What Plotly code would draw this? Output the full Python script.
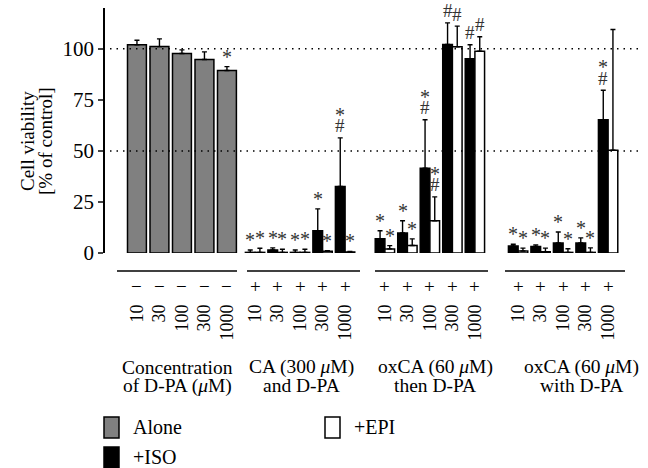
import plotly.graph_objects as go

# ---------------- data ----------------
doses = ["10", "30", "100", "300", "1000"]
pretreat_sign = ["−", "+", "+", "+"]
group_line1 = ["Concentration", "CA (300 <i>μ</i>M)", "oxCA (60 <i>μ</i>M)", "oxCA (60 <i>μ</i>M)"]
group_line2 = ["of D-PA (<i>μ</i>M)", "and D-PA", "then D-PA", "with D-PA"]

alone_mean = [102.0, 101.1, 97.7, 94.8, 89.4]
alone_err = [2.2, 3.8, 1.8, 3.7, 1.9]
alone_sig = ["", "", "", "", "*"]

ca_iso_mean = [0.3, 1.5, 0.3, 10.9, 32.6]
ca_iso_err = [1.2, 1.0, 1.2, 10.7, 23.8]
ca_iso_sig = ["*", "*", "*", "*", "*#"]
ca_epi_mean = [0.3, 0.3, 0.3, 0.8, 0.5]
ca_epi_err = [2.0, 1.5, 1.5, 0.3, 0.3]
ca_epi_sig = ["*", "*", "*", "*", "*"]

oxthen_iso_mean = [7.0, 9.8, 41.5, 102.1, 95.1]
oxthen_iso_err = [3.9, 6.0, 23.8, 10.6, 6.9]
oxthen_iso_sig = ["*", "*", "*#", "#", "#"]
oxthen_epi_mean = [2.0, 3.7, 15.8, 101.0, 98.8]
oxthen_epi_err = [1.6, 3.2, 11.7, 10.1, 7.1]
oxthen_epi_sig = ["*", "*", "*#", "#", "#"]

oxwith_iso_mean = [3.4, 3.2, 4.9, 4.9, 65.3]
oxwith_iso_err = [0.9, 0.8, 5.4, 2.5, 14.4]
oxwith_iso_sig = ["*", "*", "*", "*", "*#"]
oxwith_epi_mean = [1.0, 0.6, 0.3, 0.3, 50.3]
oxwith_epi_err = [1.4, 1.8, 1.8, 2.2, 59.2]
oxwith_epi_sig = ["*", "*", "*", "*", ""]

y_ticks = [0, 25, 50, 75, 100]
ref_lines = [50, 100]

# ---------------- layout constants ----------------
W, H = 648, 468
ML, MR, MT, MB = 105, 8, 8, 215
PITCH = 22.5                      # px per slot
XMAX = (W - ML - MR) / PITCH
YMAX = 120
GROUP_START = [1.42, 6.67, 12.44, 18.36]
PAIR_OFF = 0.215
PAIR_W = 0.43
SINGLE_W = 0.84
FONT = "Liberation Serif"


def px_x(px):
    return (px - ML) / (W - ML - MR)


def px_y(py):
    return (H - MB - py) / (H - MT - MB)


def slots(g):
    return [GROUP_START[g] + i for i in range(len(doses))]


err_style = dict(type="data", symmetric=False, color="black", thickness=1.4, width=2.5)

fig = go.Figure()

# Alone (gray)
x_alone = slots(0)
fig.add_trace(go.Bar(
    x=x_alone, y=alone_mean, width=[SINGLE_W] * 5, name="Alone",
    marker=dict(color="#808080", line=dict(color="black", width=1.5)),
    error_y=dict(array=alone_err, arrayminus=[0] * 5, **err_style),
))

iso_mean = ca_iso_mean + oxthen_iso_mean + oxwith_iso_mean
iso_err = ca_iso_err + oxthen_iso_err + oxwith_iso_err
iso_sig = ca_iso_sig + oxthen_iso_sig + oxwith_iso_sig
epi_mean = ca_epi_mean + oxthen_epi_mean + oxwith_epi_mean
epi_err = ca_epi_err + oxthen_epi_err + oxwith_epi_err
epi_sig = ca_epi_sig + oxthen_epi_sig + oxwith_epi_sig

x_iso = [s - PAIR_OFF for g in (1, 2, 3) for s in slots(g)]
x_epi = [s + PAIR_OFF for g in (1, 2, 3) for s in slots(g)]

fig.add_trace(go.Bar(
    x=x_iso, y=iso_mean, width=[PAIR_W] * len(x_iso), name="+ISO",
    marker=dict(color="black", line=dict(color="black", width=1.5)),
    error_y=dict(array=iso_err, arrayminus=[0] * len(x_iso), **err_style),
))
fig.add_trace(go.Bar(
    x=x_epi, y=epi_mean, width=[PAIR_W] * len(x_epi), name="+EPI",
    marker=dict(color="white", line=dict(color="black", width=1.5)),
    error_y=dict(array=epi_err, arrayminus=[0] * len(x_epi), **err_style),
))

annotations = []
star_font = dict(family=FONT, size=20, color="#333333")
hash_font = dict(family=FONT, size=19, color="#333333")


def add_sig(xs, means, errs, sigs):
    for x, m, e, s in zip(xs, means, errs, sigs):
        top = m + e
        if "#" in s:
            annotations.append(dict(x=x, y=top, xref="x", yref="y", text="#", showarrow=False,
                                    yanchor="middle", yshift=12, font=hash_font))
        if s == "*":
            annotations.append(dict(x=x, y=top, xref="x", yref="y", text="*", showarrow=False,
                                    yanchor="middle", yshift=10, font=star_font))
        elif s == "*#":
            annotations.append(dict(x=x, y=top, xref="x", yref="y", text="*", showarrow=False,
                                    yanchor="middle", yshift=23, font=star_font))


add_sig(x_alone, alone_mean, alone_err, alone_sig)
add_sig(x_iso, iso_mean, iso_err, iso_sig)
add_sig(x_epi, epi_mean, epi_err, epi_sig)

# +/- row
for g in range(4):
    for s in slots(g):
        annotations.append(dict(x=s, y=0, xref="x", yref="paper", text=pretreat_sign[g],
                                showarrow=False, yanchor="middle", yshift=-33,
                                font=dict(family=FONT, size=19, color="black")))

# group descriptions
group_text_px = [177, 301, 435, 581]
for g in range(4):
    annotations.append(dict(x=px_x(group_text_px[g]), y=px_y(367), xref="paper", yref="paper",
                            text=group_line1[g], showarrow=False, xanchor="center", yanchor="middle",
                            font=dict(family=FONT, size=19.5, color="black")))
    annotations.append(dict(x=px_x(group_text_px[g]), y=px_y(386), xref="paper", yref="paper",
                            text=group_line2[g], showarrow=False, xanchor="center", yanchor="middle",
                            font=dict(family=FONT, size=19.5, color="black")))

# y-axis title (two lines)
annotations.append(dict(x=px_x(27), y=px_y(141), xref="paper", yref="paper", text="Cell viability",
                        textangle=-90, showarrow=False, xanchor="center", yanchor="middle",
                        font=dict(family=FONT, size=19, color="black")))
annotations.append(dict(x=px_x(45), y=px_y(141), xref="paper", yref="paper", text="[% of control]",
                        textangle=-90, showarrow=False, xanchor="center", yanchor="middle",
                        font=dict(family=FONT, size=19, color="black")))

# manual legend
shapes = []
legend_items = [("Alone", "#808080", 104, 417), ("+EPI", "white", 325, 417), ("+ISO", "black", 104, 447)]
for label, col, lx, ly in legend_items:
    shapes.append(dict(type="rect", xref="paper", yref="paper",
                       x0=px_x(lx), x1=px_x(lx + 15), y0=px_y(ly), y1=px_y(ly + 21),
                       fillcolor=col, line=dict(color="black", width=1.5)))
    annotations.append(dict(x=px_x(lx + 27), y=px_y(ly + 10), xref="paper", yref="paper", text=label,
                            showarrow=False, xanchor="left", yanchor="middle",
                            font=dict(family=FONT, size=20, color="black")))

# dotted reference lines
for v in ref_lines:
    shapes.append(dict(type="line", xref="paper", yref="y", x0=px_x(110), x1=1, y0=v, y1=v,
                       line=dict(color="black", width=1.5, dash="1.5px,5px"), layer="above"))

# separator line under the bars
seg_px = [(117, 237), (247, 360), (375, 488), (505, 625)]
for a, b in seg_px:
    shapes.append(dict(type="line", xref="paper", yref="paper", x0=px_x(a), x1=px_x(b),
                       y0=px_y(271), y1=px_y(271), line=dict(color="black", width=1.5)))

fig.update_layout(
    width=W, height=H,
    margin=dict(l=ML, r=MR, t=MT, b=MB, autoexpand=False),
    paper_bgcolor="white", plot_bgcolor="white",
    barmode="overlay", showlegend=False,
    font=dict(family=FONT, size=20, color="black"),
    annotations=annotations, shapes=shapes,
    xaxis=dict(range=[0, XMAX], tickmode="array",
               tickvals=[s for g in range(4) for s in slots(g)],
               ticktext=doses * 4, tickangle=-90, ticks="", showline=False,
               showgrid=False, zeroline=False, ticklabelstandoff=47,
               tickfont=dict(family=FONT, size=18, color="black")),
    yaxis=dict(range=[0, YMAX], tickmode="array", tickvals=y_ticks, ticks="outside",
               ticklen=5, tickwidth=1.5, showline=True, linewidth=1.5, linecolor="black",
               showgrid=False, zeroline=False,
               tickfont=dict(family=FONT, size=21, color="black")),
)

fig.write_html("out.html", config={"displayModeBar": False},
               post_script="document.body.style.margin='0px';")
